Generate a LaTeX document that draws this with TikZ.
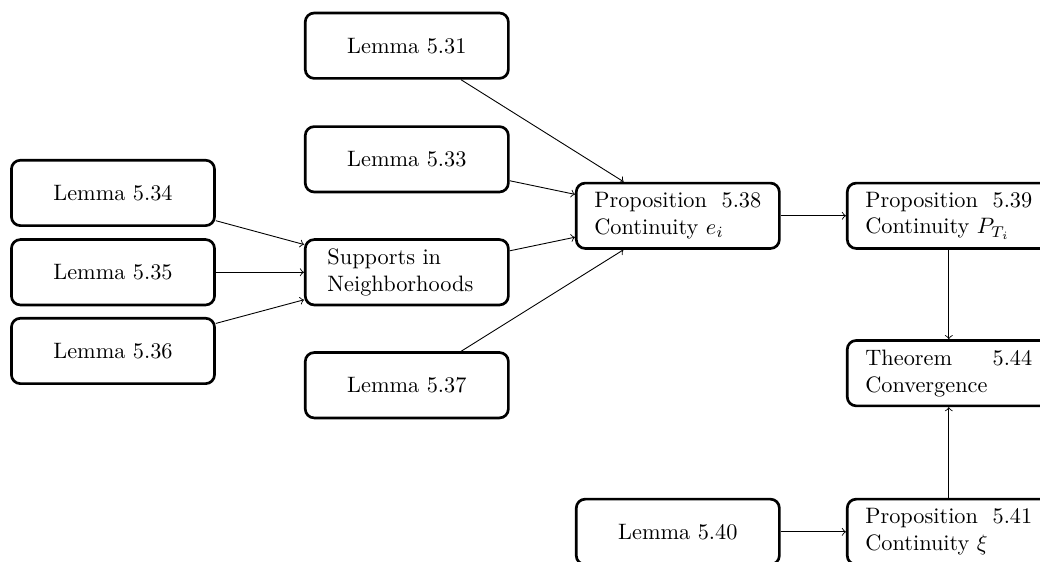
\documentclass[tikz,border=0pt]{standalone}
\begin{document}
\begin{tikzpicture}[
        lem/.style={draw,very thick,rounded corners,minimum width=3.2cm,minimum height=1.03cm},
        prop/.style={lem,text width=2.63cm,align=justify}
    ]
            \useasboundingbox (0,0) rectangle (16.387,-8.84);
            \node[lem] (l31) at (6.41,-0.72) {Lemma 5.31};
            \node[lem] (l33) at (6.41,-2.51) {Lemma 5.33};
            \node[lem] (l34) at (1.78,-3.04) {Lemma 5.34};
            \node[lem] (l35) at (1.78,-4.29) {Lemma 5.35};
            \node[lem] (l36) at (1.78,-5.53) {Lemma 5.36};
            \node[lem,text width=2.5cm,align=left] (sup) at (6.41,-4.29) {Supports in Neighborhoods};
            \node[lem] (l37) at (6.41,-6.07) {Lemma 5.37};
            \node[prop] (p38) at (10.68,-3.40) {Proposition 5.38 Continuity $e_i$};
            \node[prop] (p39) at (14.95,-3.40) {Proposition 5.39 Continuity $P_{T_i}$};
            \node[prop] (t44) at (14.95,-5.88) {Theorem 5.44 Convergence};
            \node[lem] (l40) at (10.68,-8.38) {Lemma 5.40};
            \node[prop] (p41) at (14.95,-8.38) {Proposition 5.41 Continuity $\xi$};
            \draw[->] (l31) -- (p38);
            \draw[->] (l33) -- (p38);
            \draw[->] (sup) -- (p38);
            \draw[->] (l37) -- (p38);
            \draw[->] (l34) -- (sup);
            \draw[->] (l35) -- (sup);
            \draw[->] (l36) -- (sup);
            \draw[->] (p38) -- (p39);
            \draw[->] (p39) -- (t44);
            \draw[->] (p41) -- (t44);
            \draw[->] (l40) -- (p41);
        \end{tikzpicture}
\end{document}
